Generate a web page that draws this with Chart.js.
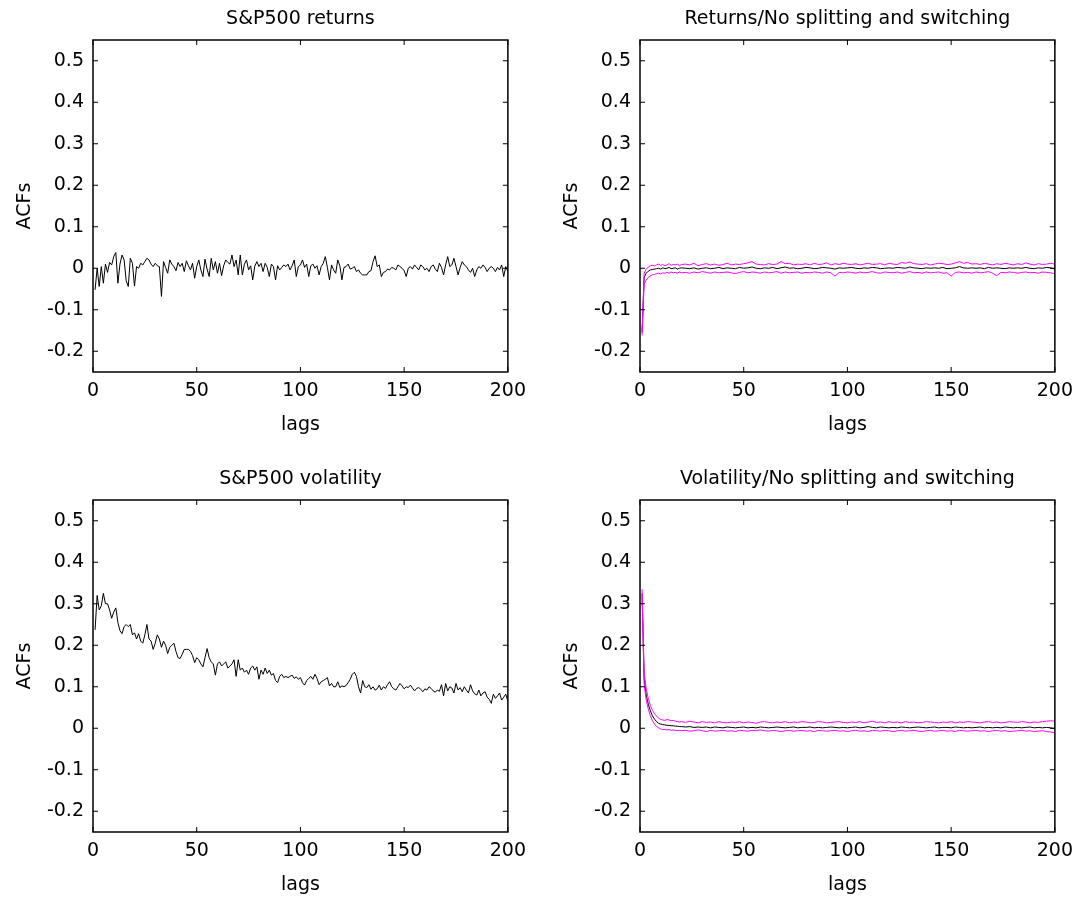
<!DOCTYPE html>
<html>
<head>
<meta charset="utf-8">
<script src="https://cdn.jsdelivr.net/npm/chart.js@4.4.1/dist/chart.umd.min.js"></script>
<style>
  body { margin: 0; background: #fff; }
  canvas { position: absolute; }
  #retPlot { left: 0; top: 0; }
  #retSim { left: 547px; top: 0; }
  #volPlot { left: 0; top: 460px; }
  #volSim { left: 547px; top: 460px; }
</style>
</head>
<body>
<canvas id="retPlot" width="534" height="440"></canvas>
<canvas id="retSim" width="534" height="440"></canvas>
<canvas id="volPlot" width="534" height="440"></canvas>
<canvas id="volSim" width="534" height="440"></canvas>
<script>
// lags 1..200 for the S&P500 plots
const lags = Array.from({ length: 200 }, (_, i) => i + 1);
// simulated plots: every lag up to 20, then every second lag
const simLags = [
  ...Array.from({ length: 20 }, (_, i) => i + 1),
  ...Array.from({ length: 90 }, (_, i) => 22 + 2 * i)
];

const xTicks = [0, 50, 100, 150, 200];
const yTicks = [-0.2, -0.1, 0, 0.1, 0.2, 0.3, 0.4, 0.5];

// S&P500 returns ACF
const returnsAcf = [
  -0.052, 0.000, -0.044, 0.004, -0.036, 0.010, -0.010, 0.014, 0.008, 0.028,
  0.038, -0.036, 0.010, 0.032, 0.020, -0.030, -0.044, 0.024, 0.012, -0.043,
  0.004, 0.000, 0.012, 0.008, 0.016, 0.024, 0.020, 0.010, 0.004, 0.012,
  0.006, 0.004, -0.068, 0.016, 0.002, -0.012, 0.020, 0.010, 0.004, -0.006,
  0.014, 0.004, 0.012, -0.008, 0.018, 0.006, -0.004, 0.012, -0.024, 0.004,
  0.020, -0.004, -0.020, 0.022, -0.002, -0.020, 0.024, -0.004, 0.016, -0.012,
  0.012, -0.018, 0.006, 0.020, 0.014, 0.010, 0.032, 0.004, 0.020, -0.016,
  0.032, -0.016, 0.010, 0.020, -0.004, 0.006, -0.028, 0.005, 0.016, 0.004,
  0.012, -0.008, 0.012, 0.002, -0.020, 0.010, 0.004, -0.028, 0.006, -0.004,
  0.002, 0.008, 0.004, 0.010, -0.004, 0.006, 0.020, -0.020, 0.004, 0.008,
  0.020, 0.002, 0.010, -0.020, 0.006, 0.010, 0.000, 0.006, -0.016, 0.004,
  0.012, 0.028, 0.002, -0.028, 0.008, -0.004, -0.012, 0.020, 0.006, -0.028,
  0.002, 0.004, 0.010, -0.002, 0.000, 0.004, -0.008, -0.004, -0.012, -0.016,
  -0.016, -0.016, -0.008, -0.006, 0.016, 0.030, 0.004, 0.008, -0.020, -0.010,
  -0.008, -0.002, -0.004, 0.002, 0.000, -0.004, 0.008, 0.004, 0.000, -0.006,
  -0.020, 0.000, 0.004, -0.002, 0.008, 0.002, -0.004, 0.008, 0.004, -0.004,
  0.000, -0.008, 0.004, 0.008, -0.002, -0.008, 0.012, 0.002, -0.016, 0.008,
  0.028, 0.004, 0.008, 0.024, 0.004, -0.016, 0.002, 0.016, 0.008, 0.004,
  -0.004, -0.010, 0.000, -0.020, -0.004, 0.004, 0.000, 0.008, 0.002, -0.008,
  0.000, 0.004, 0.000, -0.008, 0.002, -0.004, 0.008, -0.020, 0.004, -0.008
];

// S&P500 volatility ACF
const volatilityAcf = [
  0.237, 0.320, 0.285, 0.295, 0.325, 0.300, 0.300, 0.285, 0.265, 0.280,
  0.290, 0.255, 0.235, 0.228, 0.245, 0.250, 0.245, 0.250, 0.225, 0.230,
  0.215, 0.228, 0.210, 0.205, 0.225, 0.250, 0.215, 0.210, 0.190, 0.205,
  0.225, 0.215, 0.195, 0.210, 0.200, 0.180, 0.195, 0.200, 0.205, 0.185,
  0.170, 0.168, 0.178, 0.190, 0.190, 0.190, 0.185, 0.175, 0.158, 0.170,
  0.165, 0.155, 0.148, 0.170, 0.192, 0.170, 0.160, 0.155, 0.128, 0.155,
  0.160, 0.150, 0.155, 0.160, 0.145, 0.150, 0.155, 0.165, 0.125, 0.165,
  0.140, 0.145, 0.135, 0.140, 0.130, 0.145, 0.150, 0.140, 0.148, 0.118,
  0.140, 0.130, 0.145, 0.132, 0.140, 0.128, 0.132, 0.115, 0.110, 0.125,
  0.130, 0.122, 0.125, 0.122, 0.125, 0.128, 0.120, 0.124, 0.118, 0.122,
  0.110, 0.104, 0.115, 0.120, 0.125, 0.118, 0.130, 0.120, 0.105, 0.112,
  0.115, 0.118, 0.122, 0.102, 0.108, 0.100, 0.100, 0.112, 0.098, 0.102,
  0.100, 0.103, 0.110, 0.118, 0.130, 0.135, 0.125, 0.100, 0.085, 0.115,
  0.100, 0.098, 0.105, 0.094, 0.100, 0.092, 0.095, 0.104, 0.092, 0.100,
  0.096, 0.105, 0.112, 0.100, 0.095, 0.092, 0.100, 0.108, 0.102, 0.095,
  0.100, 0.098, 0.104, 0.097, 0.090, 0.096, 0.098, 0.094, 0.088, 0.095,
  0.092, 0.100, 0.096, 0.090, 0.087, 0.092, 0.089, 0.105, 0.078, 0.108,
  0.090, 0.100, 0.097, 0.085, 0.108, 0.092, 0.098, 0.088, 0.100, 0.092,
  0.085, 0.105, 0.090, 0.083, 0.080, 0.092, 0.078, 0.085, 0.088, 0.075,
  0.070, 0.060, 0.082, 0.072, 0.078, 0.085, 0.068, 0.075, 0.082, 0.065
];

// Returns, no splitting and switching: mean and band (on simLags)
const retUpper = [
  -0.150, -0.012, -0.002, 0.003, 0.006, 0.007, 0.006, 0.008, 0.010, 0.007,
  0.009, 0.006, 0.008, 0.011, 0.007, 0.009, 0.008, 0.010, 0.006, 0.009,
  0.010, 0.008, 0.012, 0.006, 0.009, 0.011, 0.008, 0.010, 0.007, 0.009,
  0.012, 0.008, 0.010, 0.009, 0.011, 0.013, 0.016, 0.010, 0.009, 0.008,
  0.011, 0.009, 0.010, 0.016, 0.011, 0.012, 0.008, 0.010, 0.009, 0.011,
  0.008, 0.012, 0.009, 0.010, 0.013, 0.008, 0.011, 0.009, 0.012, 0.010,
  0.009, 0.011, 0.008, 0.010, 0.012, 0.009, 0.010, 0.011, 0.008, 0.012,
  0.010, 0.009, 0.014, 0.012, 0.015, 0.011, 0.010, 0.009, 0.011, 0.008,
  0.010, 0.012, 0.011, 0.009, 0.010, 0.013, 0.016, 0.012, 0.014, 0.010,
  0.011, 0.009, 0.012, 0.010, 0.008, 0.011, 0.009, 0.012, 0.010, 0.008,
  0.011, 0.009, 0.013, 0.010, 0.008, 0.011, 0.009, 0.010, 0.012, 0.010
];
const retMean = [
  -0.155, -0.022, -0.012, -0.007, -0.004, -0.003, -0.002, -0.001, 0.000, -0.002,
  0.001, -0.001, 0.000, 0.002, -0.001, 0.000, 0.001, -0.002, 0.000, 0.001,
  0.000, -0.001, 0.001, -0.002, 0.000, 0.001, -0.001, 0.000, 0.002, -0.001,
  0.001, 0.000, -0.001, 0.002, 0.000, 0.001, 0.003, 0.000, -0.001, 0.001,
  0.000, 0.002, -0.001, 0.001, 0.003, 0.000, 0.001, -0.001, 0.000, 0.002,
  0.001, -0.001, 0.000, 0.002, 0.001, 0.000, -0.002, 0.001, 0.000, 0.001,
  0.002, 0.000, -0.001, 0.001, 0.000, 0.002, 0.001, -0.001, 0.000, 0.001,
  0.000, 0.002, 0.001, 0.000, 0.003, 0.001, 0.000, -0.001, 0.001, 0.000,
  0.001, 0.000, 0.002, -0.001, 0.000, 0.001, 0.004, 0.001, 0.000, 0.001,
  0.000, 0.001, -0.001, 0.002, 0.000, 0.001, 0.000, -0.001, 0.001, 0.000,
  0.001, 0.000, 0.002, 0.000, -0.001, 0.001, 0.000, 0.002, 0.001, -0.002
];
const retLower = [
  -0.162, -0.038, -0.028, -0.022, -0.018, -0.016, -0.015, -0.013, -0.012, -0.014,
  -0.011, -0.012, -0.010, -0.012, -0.009, -0.011, -0.010, -0.012, -0.009, -0.011,
  -0.010, -0.012, -0.009, -0.011, -0.008, -0.010, -0.012, -0.009, -0.011, -0.010,
  -0.009, -0.011, -0.013, -0.010, -0.008, -0.011, -0.009, -0.010, -0.012, -0.009,
  -0.011, -0.010, -0.008, -0.012, -0.009, -0.011, -0.010, -0.009, -0.012, -0.010,
  -0.011, -0.009, -0.010, -0.012, -0.009, -0.011, -0.019, -0.010, -0.011, -0.009,
  -0.010, -0.012, -0.009, -0.011, -0.010, -0.008, -0.011, -0.012, -0.009, -0.010,
  -0.011, -0.009, -0.012, -0.010, -0.008, -0.011, -0.010, -0.012, -0.009, -0.011,
  -0.010, -0.009, -0.012, -0.011, -0.019, -0.010, -0.009, -0.011, -0.010, -0.012,
  -0.009, -0.011, -0.010, -0.008, -0.012, -0.018, -0.010, -0.011, -0.009, -0.010,
  -0.012, -0.010, -0.009, -0.011, -0.010, -0.012, -0.009, -0.010, -0.011, -0.013
];

// Volatility, no splitting and switching: mean and band (on simLags)
const volUpper = [
  0.335, 0.135, 0.095, 0.072, 0.055, 0.043, 0.035, 0.029, 0.024, 0.021,
  0.020, 0.019, 0.021, 0.020, 0.018, 0.019, 0.017, 0.016, 0.015, 0.016,
  0.014, 0.017, 0.015, 0.013, 0.016, 0.014, 0.015, 0.013, 0.016, 0.014,
  0.013, 0.015, 0.014, 0.016, 0.013, 0.015, 0.014, 0.012, 0.015, 0.016,
  0.014, 0.013, 0.015, 0.014, 0.016, 0.013, 0.015, 0.014, 0.016, 0.015,
  0.013, 0.014, 0.016, 0.015, 0.013, 0.014, 0.015, 0.016, 0.014, 0.013,
  0.015, 0.014, 0.016, 0.013, 0.015, 0.017, 0.014, 0.015, 0.013, 0.016,
  0.014, 0.015, 0.013, 0.016, 0.014, 0.015, 0.013, 0.014, 0.016, 0.015,
  0.014, 0.013, 0.015, 0.014, 0.016, 0.013, 0.015, 0.014, 0.016, 0.015,
  0.014, 0.013, 0.015, 0.016, 0.014, 0.015, 0.013, 0.014, 0.016, 0.015,
  0.014, 0.016, 0.015, 0.013, 0.015, 0.014, 0.016, 0.017, 0.018, 0.017
];
const volMean = [
  0.325, 0.120, 0.080, 0.058, 0.042, 0.030, 0.022, 0.016, 0.012, 0.010,
  0.009, 0.008, 0.007, 0.007, 0.006, 0.006, 0.005, 0.005, 0.004, 0.004,
  0.003, 0.004, 0.002, 0.003, 0.002, 0.003, 0.001, 0.003, 0.002, 0.001,
  0.003, 0.002, 0.001, 0.002, 0.003, 0.001, 0.002, 0.001, 0.003, 0.002,
  0.001, 0.002, 0.003, 0.002, 0.001, 0.002, 0.003, 0.001, 0.002, 0.002,
  0.003, 0.001, 0.002, 0.001, 0.002, 0.003, 0.002, 0.001, 0.002, 0.001,
  0.002, 0.003, 0.001, 0.002, 0.004, 0.002, 0.001, 0.003, 0.002, 0.001,
  0.002, 0.001, 0.003, 0.002, 0.001, 0.002, 0.003, 0.002, 0.001, 0.002,
  0.003, 0.001, 0.002, 0.002, 0.001, 0.003, 0.002, 0.001, 0.002, 0.001,
  0.002, 0.003, 0.001, 0.002, 0.001, 0.002, 0.001, 0.003, 0.002, 0.001,
  0.002, 0.001, 0.002, 0.003, 0.001, 0.002, 0.001, 0.002, 0.001, -0.001
];
const volLower = [
  0.315, 0.105, 0.068, 0.046, 0.030, 0.018, 0.010, 0.004, 0.001, -0.002,
  -0.003, -0.003, -0.004, -0.003, -0.005, -0.004, -0.005, -0.006, -0.005, -0.006,
  -0.005, -0.007, -0.006, -0.004, -0.006, -0.008, -0.005, -0.007, -0.006, -0.005,
  -0.007, -0.006, -0.008, -0.005, -0.006, -0.007, -0.005, -0.006, -0.004, -0.006,
  -0.007, -0.005, -0.006, -0.008, -0.006, -0.005, -0.007, -0.006, -0.005, -0.007,
  -0.006, -0.008, -0.005, -0.006, -0.007, -0.006, -0.005, -0.007, -0.006, -0.008,
  -0.006, -0.005, -0.007, -0.006, -0.008, -0.005, -0.006, -0.007, -0.005, -0.006,
  -0.008, -0.006, -0.005, -0.007, -0.006, -0.005, -0.007, -0.008, -0.006, -0.005,
  -0.007, -0.006, -0.005, -0.007, -0.006, -0.008, -0.005, -0.006, -0.007, -0.006,
  -0.005, -0.007, -0.006, -0.008, -0.006, -0.005, -0.007, -0.006, -0.008, -0.007,
  -0.006, -0.005, -0.007, -0.006, -0.008, -0.007, -0.006, -0.008, -0.009, -0.011
];

Chart.defaults.font.family = "'DejaVu Sans', sans-serif";
Chart.defaults.font.size = 19;
Chart.defaults.color = '#000';

// matlab style box with inward ticks on all four sides
const boxPlugin = {
  id: 'matlabBox',
  afterDraw(chart) {
    const { ctx, chartArea: a, scales: { x, y } } = chart;
    ctx.save();
    ctx.strokeStyle = '#000';
    ctx.lineWidth = 1;
    ctx.beginPath();
    xTicks.forEach(v => {
      const px = x.getPixelForValue(v);
      ctx.moveTo(px, a.bottom); ctx.lineTo(px, a.bottom - 5);
      ctx.moveTo(px, a.top); ctx.lineTo(px, a.top + 5);
    });
    yTicks.forEach(v => {
      const py = y.getPixelForValue(v);
      ctx.moveTo(a.left, py); ctx.lineTo(a.left + 5, py);
      ctx.moveTo(a.right, py); ctx.lineTo(a.right - 5, py);
    });
    ctx.stroke();
    ctx.lineWidth = 1.5;
    ctx.strokeRect(a.left, a.top, a.right - a.left, a.bottom - a.top);
    ctx.restore();
  }
};

function series(xs, ys, color) {
  return {
    data: ys.map((v, i) => ({ x: xs[i], y: v })),
    borderColor: color,
    borderWidth: 1,
    pointRadius: 0,
    tension: 0,
    fill: false
  };
}

function makePlot(id, title, datasets) {
  new Chart(document.getElementById(id), {
    type: 'line',
    data: { datasets },
    options: {
      responsive: false,
      animation: false,
      layout: { padding: { left: 0, top: 0, right: 24, bottom: 0 } },
      plugins: { legend: { display: false }, tooltip: { enabled: false } },
      scales: {
        x: {
          type: 'linear', position: 'bottom', min: 0, max: 200,
          afterBuildTicks: s => { s.ticks = xTicks.map(v => ({ value: v })); },
          afterFit: s => { s.height = 68; },
          grid: { display: false, drawTicks: false },
          border: { display: false },
          ticks: { padding: 8, maxRotation: 0, autoSkip: false, callback: v => String(v) },
          title: { display: true, text: 'lags', padding: { top: 0, bottom: 4 } }
        },
        x2: {
          type: 'linear', position: 'top', min: 0, max: 200,
          afterFit: s => { s.height = 40; },
          grid: { display: false, drawTicks: false },
          border: { display: false },
          ticks: { display: false },
          title: { display: true, text: title, padding: { top: 8, bottom: 0 } }
        },
        y: {
          type: 'linear', position: 'left', min: -0.25, max: 0.55,
          afterBuildTicks: s => { s.ticks = yTicks.map(v => ({ value: v })); },
          afterFit: s => { s.width = 93; },
          grid: { display: false, drawTicks: false },
          border: { display: false },
          ticks: { padding: 9, autoSkip: false, callback: v => String(v) },
          title: { display: true, text: 'ACFs', padding: { top: 14, bottom: 0 } }
        }
      }
    },
    plugins: [boxPlugin]
  });
}

makePlot('retPlot', 'S&P500 returns', [series(lags, returnsAcf, '#000')]);
makePlot('retSim', 'Returns/No splitting and switching', [
  series(simLags, retUpper, '#ff00ff'),
  series(simLags, retLower, '#ff00ff'),
  series(simLags, retMean, '#000')
]);
makePlot('volPlot', 'S&P500 volatility', [series(lags, volatilityAcf, '#000')]);
makePlot('volSim', 'Volatility/No splitting and switching', [
  series(simLags, volUpper, '#ff00ff'),
  series(simLags, volLower, '#ff00ff'),
  series(simLags, volMean, '#000')
]);
</script>
</body>
</html>
